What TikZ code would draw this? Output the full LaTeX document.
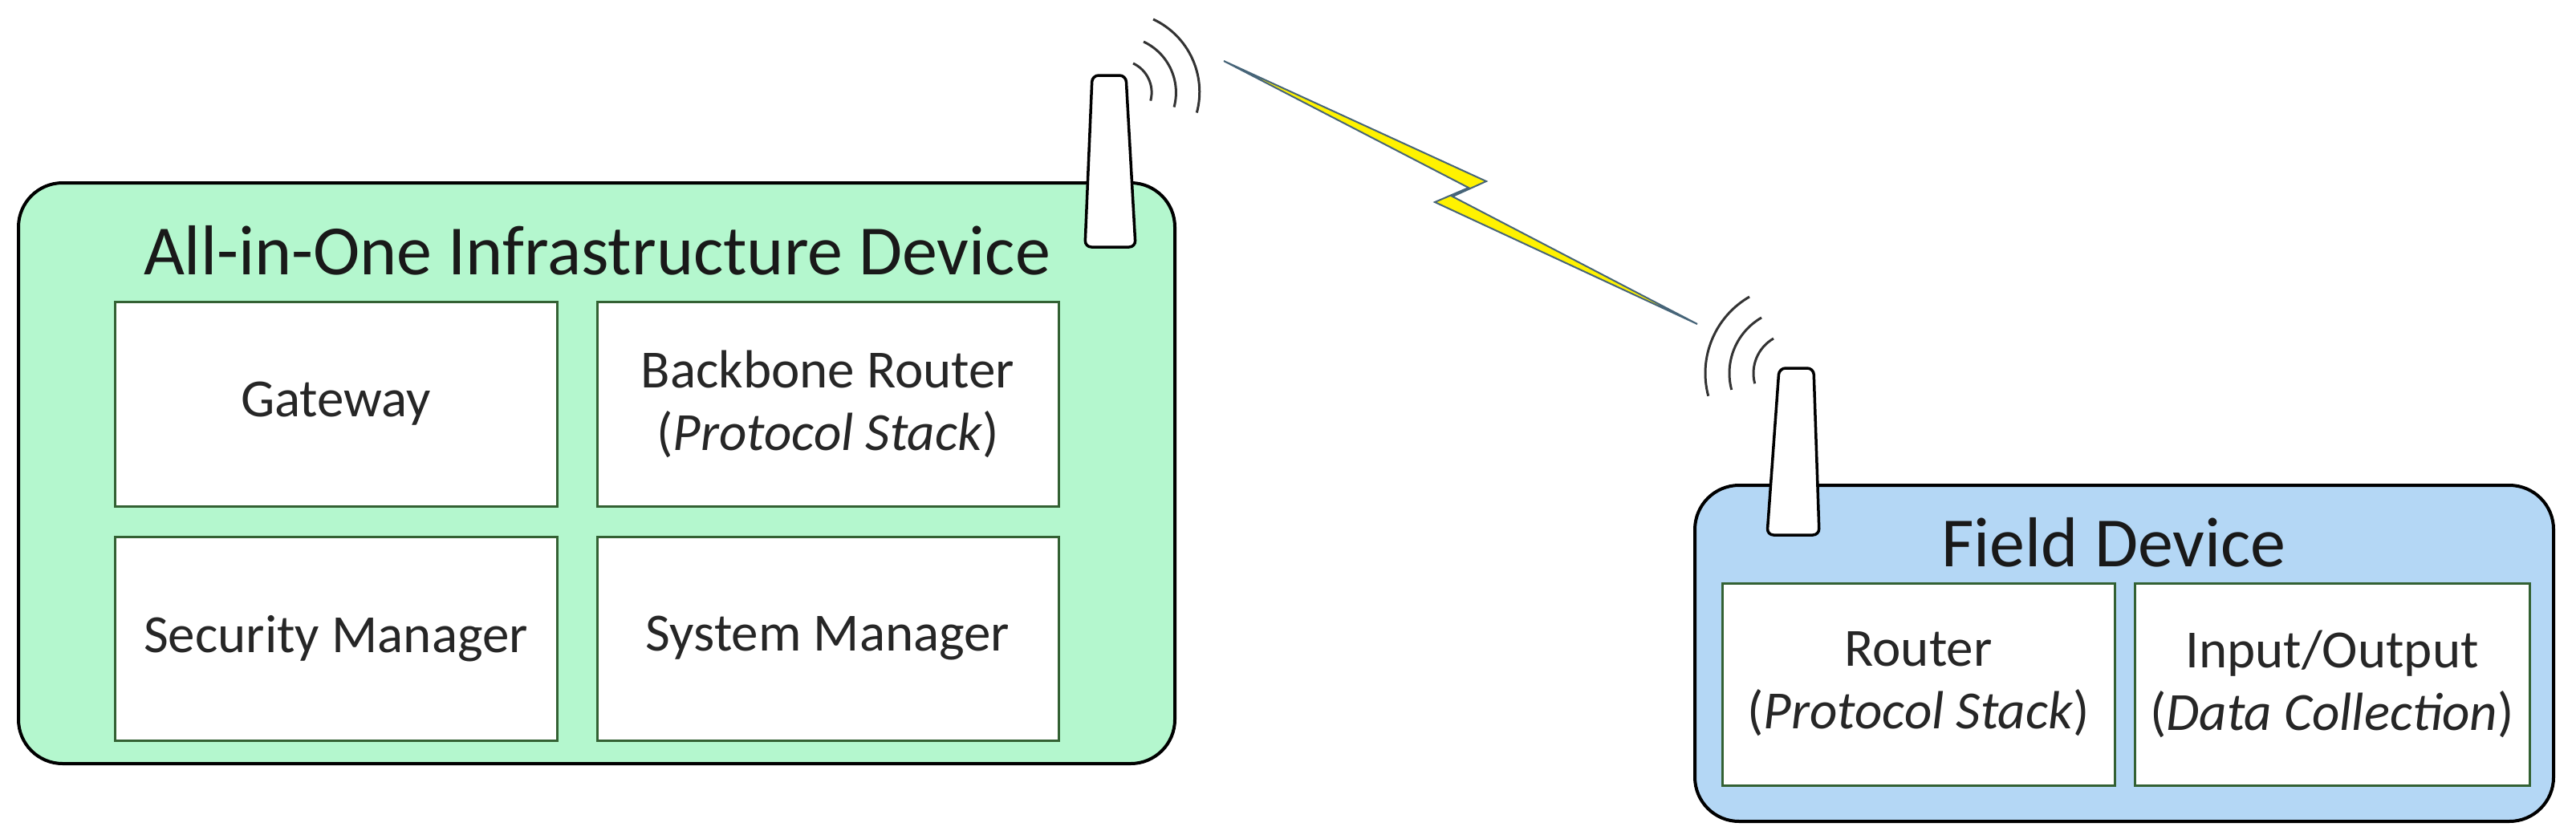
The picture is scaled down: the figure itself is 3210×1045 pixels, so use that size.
\documentclass[tikz,border=0pt]{standalone}
\usepackage{fontspec}
\setmainfont{Carlito}
\definecolor{gfill}{RGB}{180,247,206}
\definecolor{bfill}{RGB}{180,215,245}
\definecolor{bolt}{RGB}{70,100,120}
\begin{document}
\begin{tikzpicture}[x=1pt,y=-1pt,
  dev/.style={draw=black,line width=4pt,rounded corners=55pt},
  box/.style={draw=black!70!green!60!gray,line width=3pt,fill=white},
  lbl/.style={font=\fontsize{67}{78}\selectfont,align=center,text=black!85},
  ttl/.style={font=\fontsize{88}{100}\selectfont,text=black!90},
  ant/.style={draw=black,line width=3.5pt,fill=white,rounded corners=8pt},
  wave/.style={draw=black!80,line width=3pt}]
\useasboundingbox (0,0) rectangle (3210,1045);
% left device
\draw[dev,fill=gfill] (23,228) rectangle (1464,952);
\node[ttl] (t1) at (744,312) {All-in-One Infrastructure Device};
\draw[box] (143,376) rectangle (694,631) node[midway,lbl] (gw) {Gateway};
\draw[box] (744,376) rectangle (1319,631) node[midway,lbl] (bb) {Backbone Router\\(\textit{Protocol Stack})};
\draw[box] (143,669) rectangle (694,923) node[midway,lbl] (sec) {Security Manager};
\draw[box] (744,669) rectangle (1319,923) node[midway,lbl] (sys) {System Manager};
% left antenna
\draw[ant] (1352,308) -- (1361,94) -- (1403,94) -- (1415,308) -- cycle;
\draw[wave] (1412,79) arc[start angle=-65,end angle=15,radius=40];
\draw[wave] (1425,52) arc[start angle=-65,end angle=15,radius=70];
\draw[wave] (1437,24) arc[start angle=-65,end angle=15,radius=100];
% right device
\draw[dev,fill=bfill] (2112,605) rectangle (3182,1024);
\node[ttl] (t2) at (2634,676) {Field Device};
\draw[box] (2146,727) rectangle (2635,979) node[midway,lbl] (rt) {Router\\(\textit{Protocol Stack})};
\draw[box] (2660,727) rectangle (3152,979) node[midway,lbl] (io) {Input/Output\\(\textit{Data Collection})};
% right antenna
\draw[ant] (2202,667) -- (2217,459) -- (2260,459) -- (2267,667) -- cycle;
\draw[wave] (2210,422) arc[start angle=-120,end angle=-195,radius=50];
\draw[wave] (2195,396) arc[start angle=-120,end angle=-195,radius=80];
\draw[wave] (2180,370) arc[start angle=-120,end angle=-195,radius=110];
% lightning
\coordinate (a) at (1525,76);
\coordinate (b) at (2115,404);
\draw[draw=bolt,line width=2pt,line join=miter,fill=yellow]
  (a) -- (1852,226) -- (1810,245) -- (b) -- (1788,252) -- (1830,234) -- cycle;
\end{tikzpicture}
\end{document}
